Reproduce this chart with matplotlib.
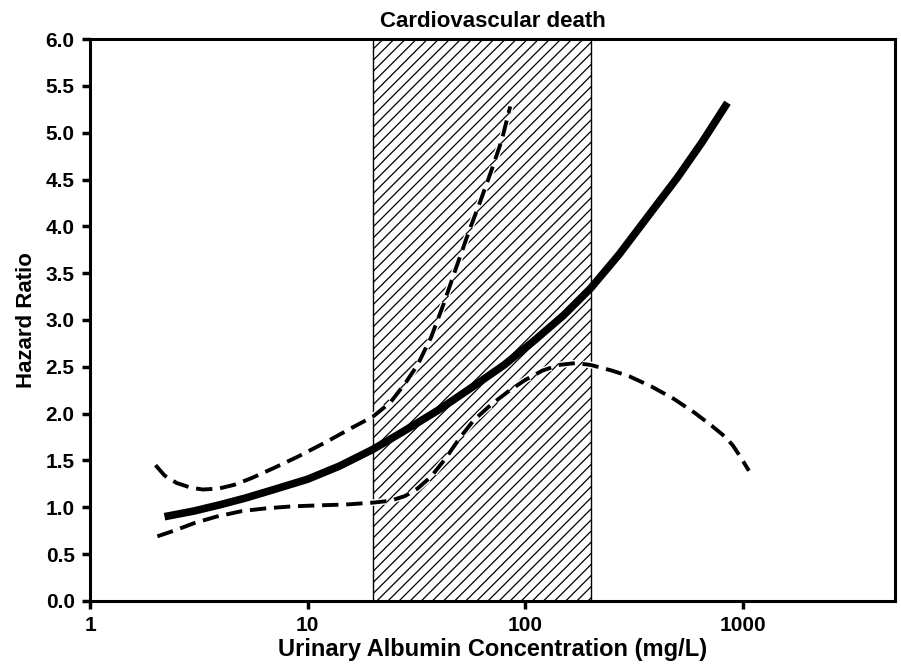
import matplotlib
matplotlib.use("Agg")
import matplotlib.pyplot as plt
import matplotlib.patheffects as pe
from matplotlib.ticker import FixedLocator, FixedFormatter, NullLocator

plt.rcParams['font.family'] = ['Liberation Sans', 'DejaVu Sans']
plt.rcParams['font.weight'] = 'bold'
plt.rcParams['hatch.linewidth'] = 0.9

# hazard ratio (solid) and 95% CI bounds (dashed)
hr_x = [2.2, 3, 4, 5.2, 7, 10, 14, 20, 28, 40, 56, 80, 110, 150, 200, 270, 370, 500, 650, 850]
hr_y = [0.90, 0.96, 1.03, 1.10, 1.19, 1.30, 1.44, 1.62, 1.82, 2.04, 2.27, 2.52, 2.78, 3.05, 3.34,
        3.70, 4.12, 4.52, 4.90, 5.32]

upper_x = [2.0, 2.2, 2.5, 2.9, 3.3, 3.9, 4.6, 5.5, 7.0, 9.0, 12, 16, 20, 24, 28, 32, 37, 42, 48,
           55, 62, 70, 78, 85.3]
upper_y = [1.45, 1.34, 1.26, 1.21, 1.19, 1.20, 1.24, 1.31, 1.42, 1.54, 1.69, 1.85, 1.97, 2.12,
           2.32, 2.52, 2.82, 3.16, 3.55, 3.94, 4.26, 4.60, 4.92, 5.28]

lower_x = [2.04, 2.5, 3.0, 3.8, 5.0, 6.5, 8.5, 11, 15, 20, 24, 28, 32, 37, 43, 50, 58, 70, 85,
           100, 120, 143, 170, 200, 250, 300, 380, 480, 600, 720, 832, 900, 980, 1066]
lower_y = [0.69, 0.76, 0.83, 0.90, 0.96, 0.99, 1.01, 1.02, 1.03, 1.05, 1.07, 1.12, 1.20, 1.33,
           1.52, 1.74, 1.93, 2.10, 2.25, 2.36, 2.46, 2.52, 2.54, 2.52, 2.46, 2.40, 2.29, 2.16,
           2.01, 1.87, 1.75, 1.66, 1.53, 1.39]

shade_lo, shade_hi = 20, 200
x_ticks = [1, 10, 100, 1000]
y_ticks = [0.0, 0.5, 1.0, 1.5, 2.0, 2.5, 3.0, 3.5, 4.0, 4.5, 5.0, 5.5, 6.0]

fig = plt.figure(figsize=(9.01, 6.67), dpi=100)
ax = fig.add_axes([0.0999, 0.099, 0.8934, 0.8425])

ax.axvspan(shade_lo, shade_hi, facecolor='white', edgecolor='black',
           hatch='///', linewidth=1.0, zorder=1)

halo = [pe.Stroke(linewidth=4.8, foreground='white'), pe.Normal()]
ax.plot(upper_x, upper_y, color='black', lw=2.8, dashes=(4.2, 2.0),
        path_effects=halo, zorder=3)
ax.plot(lower_x, lower_y, color='black', lw=2.8, dashes=(4.2, 2.0),
        path_effects=halo, zorder=3)
ax.plot(hr_x, hr_y, color='black', lw=5.5, solid_capstyle='butt', zorder=4)

ax.set_xscale('log')
ax.set_xlim(1, 5000)
ax.set_ylim(0, 6)
ax.xaxis.set_major_locator(FixedLocator(x_ticks))
ax.xaxis.set_major_formatter(FixedFormatter([str(v) for v in x_ticks]))
ax.xaxis.set_minor_locator(NullLocator())
ax.set_yticks(y_ticks)
ax.set_yticklabels(["%.1f" % v for v in y_ticks])

for s in ax.spines.values():
    s.set_linewidth(2.2)
ax.tick_params(direction='out', length=6, width=2.5, labelsize=15, pad=5)

ax.set_xlabel("Urinary Albumin Concentration (mg/L)", fontsize=17, fontweight='bold', labelpad=2)
ax.set_ylabel("Hazard Ratio", fontsize=16, fontweight='bold', labelpad=6)
ax.set_title("Cardiovascular death", fontsize=16, fontweight='bold', pad=9)

fig.savefig("out.png", dpi=100)
